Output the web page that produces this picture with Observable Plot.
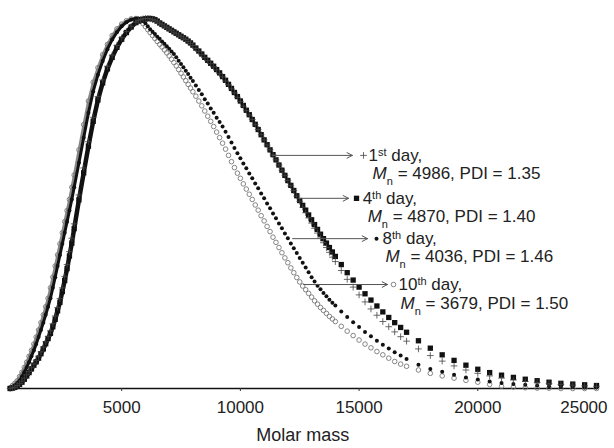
<!DOCTYPE html>
<html>
<head>
<meta charset="utf-8">
<script src="https://cdn.jsdelivr.net/npm/d3@7"></script>
<script src="https://cdn.jsdelivr.net/npm/@observablehq/plot@0.6"></script>
<style>
  body { margin: 0; background: #fff; }
  #chart { width: 614px; height: 448px; }
  #chart text { white-space: pre; }
</style>
</head>
<body>
<div id="chart"></div>
<script>
// Molar mass grid (g/mol)
const mass = [
  300,400,500,600,700,800,900,1000,1100,1200,1300,1400,1500,1600,1700,1800,1900,2000,2100,2200,2300,2400,2500,2600,2700,2800,2900,3000,
  3200,3400,3600,3800,4000,4200,4400,4600,4800,5000,5200,5400,5600,
  5700,5800,5900,6000,6100,6200,6300,6400,6500,6600,6700,6800,6900,7000,7100,7200,7300,7400,7500,7600,7700,7800,7900,8000,
  8125,8250,8375,8500,8625,8750,8875,9000,9125,9250,9375,9500,9625,9750,9875,10000,10125,10250,10375,10500,10625,10750,10875,11000,
  11125,11250,11375,11500,11625,11750,11875,12000,12125,12250,12375,12500,12625,12750,12875,13000,13125,13250,13375,13500,13625,13750,13875,14000,
  14250,14500,14750,15000,15250,15500,15750,16000,16250,16500,16750,17000,
  17500,18000,18500,19000,19500,20000,20500,21000,21500,22000,22500,23000,23500,24000,24500,25000];

// Normalised distributions
const day1 = [
  0.000,0.002,0.004,0.008,0.013,0.020,0.028,0.037,0.046,0.056,0.066,0.076,0.087,0.099,0.112,0.126,0.141,0.156,0.175,0.196,0.219,0.243,0.272,0.303,0.335,0.370,0.406,0.445,
  0.523,0.596,0.667,0.733,0.789,0.834,0.871,0.901,0.927,0.948,0.965,0.979,0.990,
  0.994,0.997,0.999,1.000,1.000,0.999,0.997,0.995,0.991,0.987,0.983,0.979,0.975,0.971,0.967,0.963,0.959,0.955,0.951,0.947,0.943,0.938,0.933,0.927,
  0.919,0.911,0.902,0.894,0.886,0.878,0.869,0.861,0.851,0.842,0.831,0.821,0.810,0.799,0.787,0.776,0.763,0.751,0.739,0.727,0.713,0.700,0.686,0.672,
  0.658,0.645,0.631,0.618,0.604,0.590,0.576,0.562,0.548,0.535,0.520,0.506,0.490,0.475,0.461,0.447,0.433,0.420,0.407,0.394,0.381,0.368,0.355,0.343,
  0.319,0.295,0.274,0.253,0.234,0.215,0.198,0.181,0.167,0.153,0.140,0.128,
  0.107,0.089,0.074,0.061,0.050,0.041,0.034,0.028,0.023,0.019,0.016,0.013,0.011,0.009,0.007,0.006];
const day4 = [
  0.000,0.001,0.003,0.006,0.011,0.017,0.025,0.034,0.043,0.053,0.063,0.072,0.082,0.094,0.107,0.121,0.135,0.149,0.167,0.187,0.210,0.233,0.262,0.292,0.324,0.358,0.393,0.432,
  0.510,0.583,0.655,0.722,0.780,0.826,0.864,0.895,0.922,0.944,0.962,0.977,0.989,
  0.993,0.996,0.998,0.999,1.000,1.000,0.999,0.997,0.993,0.988,0.984,0.980,0.976,0.972,0.968,0.964,0.960,0.956,0.952,0.948,0.944,0.939,0.934,0.928,
  0.920,0.912,0.904,0.895,0.887,0.879,0.871,0.862,0.853,0.843,0.833,0.822,0.811,0.800,0.789,0.777,0.765,0.752,0.740,0.727,0.714,0.700,0.686,0.672,
  0.659,0.645,0.632,0.618,0.604,0.590,0.576,0.562,0.549,0.535,0.521,0.508,0.495,0.482,0.469,0.456,0.443,0.430,0.417,0.405,0.393,0.381,0.369,0.357,
  0.335,0.313,0.293,0.274,0.256,0.239,0.223,0.207,0.192,0.178,0.165,0.152,
  0.129,0.109,0.091,0.076,0.063,0.052,0.043,0.036,0.030,0.025,0.021,0.017,0.014,0.012,0.010,0.008];
const day8 = [
  0.001,0.004,0.008,0.014,0.021,0.032,0.044,0.057,0.071,0.087,0.103,0.120,0.139,0.158,0.178,0.199,0.221,0.244,0.272,0.301,0.331,0.361,0.391,0.421,0.451,0.481,0.511,0.544,
  0.610,0.678,0.745,0.803,0.848,0.885,0.917,0.943,0.963,0.979,0.990,0.997,1.000,
  1.000,0.998,0.993,0.987,0.979,0.971,0.964,0.958,0.951,0.945,0.938,0.932,0.925,0.918,0.911,0.904,0.895,0.886,0.877,0.868,0.859,0.850,0.840,0.831,
  0.819,0.807,0.795,0.782,0.770,0.757,0.745,0.732,0.720,0.708,0.694,0.680,0.665,0.650,0.636,0.622,0.608,0.595,0.581,0.568,0.554,0.541,0.527,0.514,
  0.500,0.487,0.473,0.460,0.446,0.433,0.419,0.406,0.392,0.379,0.366,0.353,0.340,0.327,0.314,0.301,0.289,0.278,0.268,0.258,0.249,0.240,0.232,0.224,
  0.208,0.193,0.179,0.166,0.153,0.141,0.129,0.118,0.108,0.098,0.089,0.080,
  0.064,0.053,0.045,0.037,0.030,0.024,0.019,0.015,0.012,0.010,0.008,0.006,0.005,0.004,0.003,0.003];
const day10 = [
  0.002,0.008,0.014,0.021,0.032,0.044,0.057,0.071,0.087,0.103,0.120,0.139,0.158,0.178,0.199,0.221,0.244,0.272,0.301,0.331,0.361,0.391,0.421,0.451,0.481,0.511,0.544,0.577,
  0.645,0.713,0.777,0.828,0.867,0.902,0.930,0.954,0.972,0.985,0.994,0.999,1.000,
  0.998,0.993,0.986,0.978,0.970,0.962,0.954,0.946,0.938,0.930,0.923,0.915,0.907,0.899,0.890,0.881,0.872,0.862,0.852,0.842,0.832,0.822,0.812,0.802,
  0.790,0.777,0.764,0.750,0.736,0.722,0.708,0.693,0.678,0.663,0.647,0.630,0.613,0.597,0.582,0.568,0.553,0.539,0.525,0.511,0.496,0.482,0.467,0.453,
  0.438,0.424,0.409,0.395,0.381,0.367,0.353,0.340,0.326,0.313,0.300,0.288,0.277,0.267,0.257,0.247,0.237,0.228,0.219,0.211,0.203,0.195,0.188,0.181,
  0.168,0.155,0.143,0.131,0.120,0.110,0.100,0.091,0.082,0.073,0.066,0.060,
  0.050,0.041,0.034,0.028,0.022,0.017,0.011,0.006,0.004,0.002,0.001,0.001,0,0,0,0];

const xTicks = [5000, 10000, 15000, 20000, 25000];
const xLabel = "Molar mass";

// Annotations
const annDay = ["1^st day,", "4^th day,", "8^th day,", "10^th day,"];
const annStats = ["M_n = 4986, PDI = 1.35", "M_n = 4870, PDI = 1.40", "M_n = 4036, PDI = 1.46", "M_n = 3679, PDI = 1.50"];
const annArrowFrom = [11350, 12450, 12200, 12660];
const annArrowTo = [14716, 14555, 15355, 16198];
const annLevel = [0.630, 0.514, 0.405, 0.281];
const annSymbolAt = [15187, 14892, 15734, 16450];
const annTextAt = [15400, 15150, 15990, 16660];
const annStatsAt = [15570, 15360, 16110, 16745];
const annStatsLevel = [0.581, 0.466, 0.357, 0.230];

// Styles per series: 1st, 4th, 8th, 10th day
const seriesStyle = [
  {symbol: "plus", r: 2.3, fill: "none", stroke: "#444", strokeWidth: 0.8},
  {symbol: "square", r: 3.0, fill: "#111", stroke: "none"},
  {symbol: "circle", r: 2.0, fill: "#111", stroke: "none"},
  {symbol: "circle", r: 2.3, fill: "none", stroke: "#777", strokeWidth: 0.9}
];
// steep rising side, where the original's markers merge into a band
const bandStyle = [
  null,
  {upTo: 6100, stroke: "#111", strokeWidth: 4.5},
  {upTo: 5700, stroke: "#111", strokeWidth: 3},
  {upTo: 5600, stroke: "#888", strokeWidth: 2.6}
];
const seriesValues = [day1, day4, day8, day10];
const rows = seriesValues.map(v => mass.map((m, i) => ({mass: m, value: v[i]})));

const idx = d3.range(4);
const drawOrder = [3, 2, 1, 0];

const seriesMarks = drawOrder.flatMap(s => {
  const out = [];
  const b = bandStyle[s];
  if (b) out.push(Plot.line(rows[s], {x: "mass", y: "value", filter: d => d.mass <= b.upTo, stroke: b.stroke, strokeWidth: b.strokeWidth}));
  out.push(Plot.dot(rows[s], {x: "mass", y: "value", ...seriesStyle[s]}));
  return out;
});

const plot = Plot.plot({
  width: 614,
  height: 448,
  marginLeft: 8.4,
  marginRight: 18,
  marginTop: 18,
  marginBottom: 60,
  style: {fontFamily: "'Liberation Sans', Arial, sans-serif", fontSize: "17px", color: "#222", background: "#fff"},
  x: {domain: [250, 25000], label: null},
  y: {domain: [0, 1], axis: null},
  marks: [
    Plot.ruleY([0], {stroke: "#111", strokeWidth: 1.6}),
    Plot.axisX(xTicks.slice(0, 4), {tickSize: 3, tickPadding: 9, tickFormat: d => String(d), label: null, fontSize: 17, stroke: "#333"}),
    Plot.axisX(xTicks.slice(4), {tickSize: 0, tickPadding: 12, tickFormat: d => String(d), label: null, fontSize: 17, textAnchor: "end", dx: 11}),
    Plot.text([xLabel], {frameAnchor: "bottom", dy: 52, fontSize: 18, fill: "#222"}),
    ...seriesMarks,
    Plot.arrow(idx, {x1: i => annArrowFrom[i], y1: i => annLevel[i], x2: i => annArrowTo[i], y2: i => annLevel[i],
      stroke: "#555", strokeWidth: 1, headLength: 9, headAngle: 55}),
    ...idx.map(i => Plot.dot([i], {x: j => annSymbolAt[j], y: j => annLevel[j], ...seriesStyle[i]})),
    Plot.text(idx, {x: i => annTextAt[i], y: i => annLevel[i], text: i => annDay[i], textAnchor: "start", fontSize: 17, fill: "#222"}),
    Plot.text(idx, {x: i => annStatsAt[i], y: i => annStatsLevel[i], text: i => annStats[i], textAnchor: "start", fontSize: 17, fill: "#222"})
  ]
});

// super/subscripts
d3.select(plot).selectAll("text").each(function() {
  if (this.childElementCount) return;
  const s = this.textContent;
  const t = d3.select(this);
  let m;
  if ((m = s.match(/^(\d+)\^([a-z]+)(.*)$/))) {
    t.text(null);
    t.append("tspan").text(m[1]);
    t.append("tspan").attr("dy", "-5").attr("font-size", "11").text(m[2]);
    t.append("tspan").attr("dy", "5").text(m[3]);
  } else if ((m = s.match(/^M_n(.*)$/))) {
    t.text(null);
    t.append("tspan").attr("font-style", "italic").text("M");
    t.append("tspan").attr("dy", "6").attr("font-size", "11").text("n");
    t.append("tspan").attr("dy", "-6").text(m[1]);
  }
});

document.getElementById("chart").appendChild(plot);
</script>
</body>
</html>
